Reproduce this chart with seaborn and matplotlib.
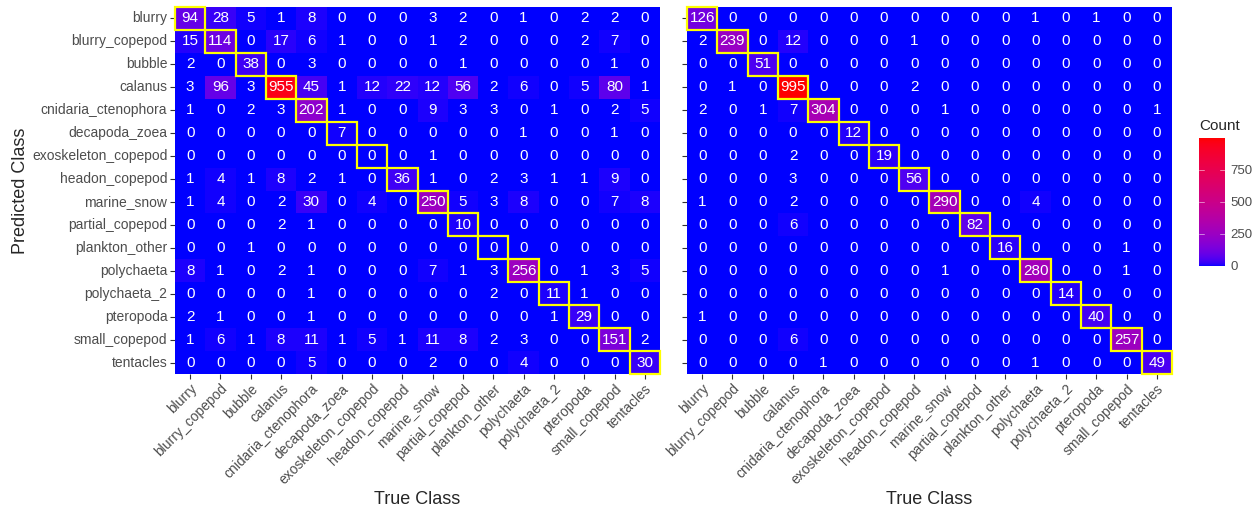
import numpy as np
import pandas as pd
import matplotlib
matplotlib.use("Agg")
import matplotlib.pyplot as plt
from matplotlib.colors import ListedColormap
from matplotlib.patches import Rectangle
import seaborn as sns

classes = ["blurry", "blurry_copepod", "bubble", "calanus", "cnidaria_ctenophora",
           "decapoda_zoea", "exoskeleton_copepod", "headon_copepod", "marine_snow",
           "partial_copepod", "plankton_other", "polychaeta", "polychaeta_2",
           "pteropoda", "small_copepod", "tentacles"]

# rows = predicted class, columns = true class
counts_a = [
    [94, 28, 5, 1, 8, 0, 0, 0, 3, 2, 0, 1, 0, 2, 2, 0],
    [15, 114, 0, 17, 6, 1, 0, 0, 1, 2, 0, 0, 0, 2, 7, 0],
    [2, 0, 38, 0, 3, 0, 0, 0, 0, 1, 0, 0, 0, 0, 1, 0],
    [3, 96, 3, 955, 45, 1, 12, 22, 12, 56, 2, 6, 0, 5, 80, 1],
    [1, 0, 2, 3, 202, 1, 0, 0, 9, 3, 3, 0, 1, 0, 2, 5],
    [0, 0, 0, 0, 0, 7, 0, 0, 0, 0, 0, 1, 0, 0, 1, 0],
    [0, 0, 0, 0, 0, 0, 0, 0, 1, 0, 0, 0, 0, 0, 0, 0],
    [1, 4, 1, 8, 2, 1, 0, 36, 1, 0, 2, 3, 1, 1, 9, 0],
    [1, 4, 0, 2, 30, 0, 4, 0, 250, 5, 3, 8, 0, 0, 7, 8],
    [0, 0, 0, 2, 1, 0, 0, 0, 0, 10, 0, 0, 0, 0, 0, 0],
    [0, 0, 1, 0, 0, 0, 0, 0, 0, 0, 0, 0, 0, 0, 0, 0],
    [8, 1, 0, 2, 1, 0, 0, 0, 7, 1, 3, 256, 0, 1, 3, 5],
    [0, 0, 0, 0, 1, 0, 0, 0, 0, 0, 2, 0, 11, 1, 0, 0],
    [2, 1, 0, 0, 1, 0, 0, 0, 0, 0, 0, 0, 1, 29, 0, 0],
    [1, 6, 1, 8, 11, 1, 5, 1, 11, 8, 2, 3, 0, 0, 151, 2],
    [0, 0, 0, 0, 5, 0, 0, 0, 2, 0, 0, 4, 0, 0, 0, 30],
]

counts_b = [
    [126, 0, 0, 0, 0, 0, 0, 0, 0, 0, 0, 1, 0, 1, 0, 0],
    [2, 239, 0, 12, 0, 0, 0, 1, 0, 0, 0, 0, 0, 0, 0, 0],
    [0, 0, 51, 0, 0, 0, 0, 0, 0, 0, 0, 0, 0, 0, 0, 0],
    [0, 1, 0, 995, 0, 0, 0, 2, 0, 0, 0, 0, 0, 0, 0, 0],
    [2, 0, 1, 7, 304, 0, 0, 0, 1, 0, 0, 0, 0, 0, 0, 1],
    [0, 0, 0, 0, 0, 12, 0, 0, 0, 0, 0, 0, 0, 0, 0, 0],
    [0, 0, 0, 2, 0, 0, 19, 0, 0, 0, 0, 0, 0, 0, 0, 0],
    [0, 0, 0, 3, 0, 0, 0, 56, 0, 0, 0, 0, 0, 0, 0, 0],
    [1, 0, 0, 2, 0, 0, 0, 0, 290, 0, 0, 4, 0, 0, 0, 0],
    [0, 0, 0, 6, 0, 0, 0, 0, 0, 82, 0, 0, 0, 0, 0, 0],
    [0, 0, 0, 0, 0, 0, 0, 0, 0, 0, 16, 0, 0, 0, 1, 0],
    [0, 0, 0, 0, 0, 0, 0, 0, 1, 0, 0, 280, 0, 0, 1, 0],
    [0, 0, 0, 0, 0, 0, 0, 0, 0, 0, 0, 0, 14, 0, 0, 0],
    [1, 0, 0, 0, 0, 0, 0, 0, 0, 0, 0, 0, 0, 40, 0, 0],
    [0, 0, 0, 6, 0, 0, 0, 0, 0, 0, 0, 0, 0, 0, 257, 0],
    [0, 0, 0, 0, 1, 0, 0, 0, 0, 0, 0, 1, 0, 0, 0, 49],
]

colorbar_ticks = [0, 250, 500, 750]


# --- blue -> red gradient interpolated in CIE Lab space ---
def srgb_to_lab(rgb):
    rgb = np.asarray(rgb, float)
    lin = np.where(rgb <= 0.04045, rgb / 12.92, ((rgb + 0.055) / 1.055) ** 2.4)
    m = np.array([[0.4124564, 0.3575761, 0.1804375],
                  [0.2126729, 0.7151522, 0.0721750],
                  [0.0193339, 0.1191920, 0.9503041]])
    xyz = lin @ m.T / np.array([0.95047, 1.0, 1.08883])
    f = np.where(xyz > 216 / 24389, np.cbrt(xyz), (24389 / 27 * xyz + 16) / 116)
    L = 116 * f[..., 1] - 16
    a = 500 * (f[..., 0] - f[..., 1])
    b = 200 * (f[..., 1] - f[..., 2])
    return np.stack([L, a, b], -1)


def lab_to_srgb(lab):
    L, a, b = lab[..., 0], lab[..., 1], lab[..., 2]
    fy = (L + 16) / 116
    fx = fy + a / 500
    fz = fy - b / 200
    e = 216 / 24389
    k = 24389 / 27
    xr = np.where(fx ** 3 > e, fx ** 3, (116 * fx - 16) / k)
    yr = np.where(L > k * e, fy ** 3, L / k)
    zr = np.where(fz ** 3 > e, fz ** 3, (116 * fz - 16) / k)
    xyz = np.stack([xr, yr, zr], -1) * np.array([0.95047, 1.0, 1.08883])
    minv = np.array([[3.2404542, -1.5371385, -0.4985314],
                     [-0.9692660, 1.8760108, 0.0415560],
                     [0.0556434, -0.2040259, 1.0572252]])
    lin = np.clip(xyz @ minv.T, 0, 1)
    rgb = np.where(lin <= 0.0031308, 12.92 * lin, 1.055 * lin ** (1 / 2.4) - 0.055)
    return np.clip(rgb, 0, 1)


lab_lo = srgb_to_lab([0, 0, 1])
lab_hi = srgb_to_lab([1, 0, 0])
t = np.linspace(0, 1, 256)[:, None]
grad = lab_to_srgb(lab_lo + (lab_hi - lab_lo) * t)
cmap = ListedColormap(grad)

vmax = max(max(r) for r in counts_a + counts_b)

sns.set_style("white")
plt.rcParams["font.family"] = ["Liberation Sans", "DejaVu Sans"]

W, H = 1256, 511
fig = plt.figure(figsize=(W / 100, H / 100), dpi=100)

def px_axes(x0, y0, x1, y1):
    return fig.add_axes([x0 / W, 1 - y1 / H, (x1 - x0) / W, (y1 - y0) / H])

ax1 = px_axes(175, 7, 660, 374)
ax2 = px_axes(687, 7, 1172, 374)
cax = px_axes(1199, 138, 1225, 266)

tick_col = "#4D4D4D"

for ax, data, show_y in [(ax1, counts_a, True), (ax2, counts_b, False)]:
    df = pd.DataFrame(data, index=classes, columns=classes)
    sns.heatmap(df, ax=ax, cmap=cmap, vmin=0, vmax=vmax, annot=True, fmt="d",
                annot_kws={"color": "white", "fontsize": 11},
                cbar=(ax is ax2), cbar_ax=cax if ax is ax2 else None,
                linewidths=0, square=False)
    # outline the diagonal (correct predictions)
    for i in range(len(classes)):
        ax.add_patch(Rectangle((i, i), 1, 1, fill=False, edgecolor="#FFFF00",
                               linewidth=1.6, zorder=5, clip_on=False))
    ax.set_xticks(np.arange(len(classes)) + 0.5)
    ax.set_xticklabels(classes, rotation=45, ha="right", rotation_mode="anchor",
                       fontsize=10, color=tick_col)
    ax.set_yticks(np.arange(len(classes)) + 0.5)
    if show_y:
        ax.set_yticklabels(classes, rotation=0, fontsize=10, color=tick_col)
        ax.set_ylabel("Predicted Class", fontsize=13, labelpad=2)
    else:
        ax.set_yticklabels([])
        ax.set_ylabel("")
    ax.tick_params(axis="both", length=3.5, width=0.8, color="#333333", pad=2,
                   bottom=True, left=True)
    ax.set_xlabel("True Class", fontsize=13, labelpad=3)
    for s in ax.spines.values():
        s.set_visible(False)

cb = ax2.collections[0].colorbar
cb.set_ticks(colorbar_ticks)
cb.ax.tick_params(labelsize=9.5, labelcolor=tick_col, length=0, pad=4)
cb.outline.set_visible(False)
for v in colorbar_ticks[1:]:
    cax.plot([0, 0.2], [v, v], color="white", lw=0.6, alpha=0.6)
    cax.plot([0.8, 1], [v, v], color="white", lw=0.6, alpha=0.6)
cax.set_title("Count", fontsize=11, loc="left", pad=6, x=0.0)

fig.savefig("out.png", dpi=100, facecolor="white")
